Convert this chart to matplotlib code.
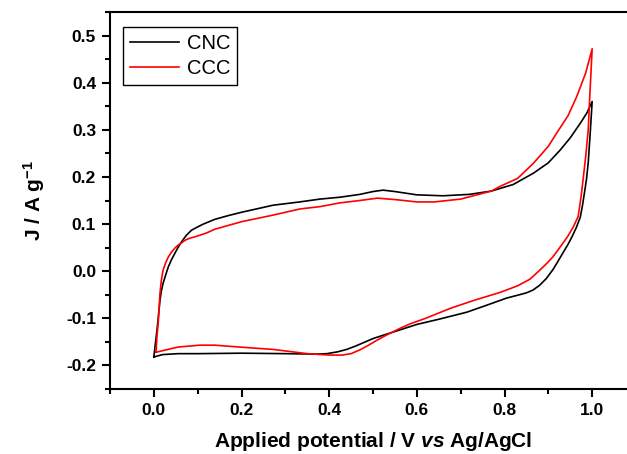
'''
Cyclic voltammograms of CNC and CCC electrodes
'''
import matplotlib
matplotlib.use('Agg')
import matplotlib.pyplot as plt
from matplotlib.ticker import MultipleLocator

# CNC: forward (anodic) sweep 0 -> 1 V, then reverse sweep 1 -> 0 V
cnc_fwd_x = [0.0, 0.004, 0.008, 0.011, 0.014, 0.017, 0.021, 0.027, 0.033, 0.04,
             0.048, 0.055, 0.063, 0.074, 0.086, 0.1, 0.113, 0.139, 0.17, 0.2,
             0.272, 0.333, 0.379, 0.425, 0.47, 0.5, 0.523, 0.55, 0.6, 0.66,
             0.72, 0.77, 0.82, 0.866, 0.9, 0.927, 0.95, 0.973, 0.988, 1.0]
cnc_fwd_y = [-0.182, -0.15, -0.118, -0.09, -0.062, -0.043, -0.026, -0.008, 0.009, 0.024,
             0.038, 0.05, 0.062, 0.076, 0.087, 0.094, 0.100, 0.110, 0.118, 0.125,
             0.140, 0.147, 0.153, 0.157, 0.163, 0.169, 0.172, 0.169, 0.162, 0.160,
             0.163, 0.170, 0.184, 0.208, 0.230, 0.257, 0.283, 0.314, 0.336, 0.360]
cnc_rev_x = [1.0, 0.996, 0.991, 0.987, 0.983, 0.978, 0.973, 0.964, 0.955, 0.945,
             0.934, 0.922, 0.911, 0.895, 0.88, 0.865, 0.85, 0.83, 0.805, 0.76,
             0.714, 0.65, 0.6, 0.56, 0.523, 0.5, 0.48, 0.46, 0.44, 0.42,
             0.395, 0.37, 0.3, 0.2, 0.1, 0.055, 0.02, 0.0]
cnc_rev_y = [0.360, 0.300, 0.230, 0.195, 0.170, 0.140, 0.115, 0.093, 0.075, 0.057,
             0.040, 0.021, 0.004, -0.016, -0.030, -0.040, -0.046, -0.051, -0.057, -0.072,
             -0.087, -0.102, -0.113, -0.125, -0.136, -0.143, -0.151, -0.159, -0.166, -0.171,
             -0.175, -0.176, -0.175, -0.174, -0.175, -0.175, -0.177, -0.182]

# CCC
ccc_fwd_x = [0.005, 0.007, 0.01, 0.012, 0.014, 0.017, 0.021, 0.027, 0.033, 0.04,
             0.048, 0.055, 0.063, 0.072, 0.082, 0.094, 0.12, 0.139, 0.2, 0.272,
             0.333, 0.379, 0.425, 0.47, 0.51, 0.55, 0.6, 0.64, 0.7, 0.77,
             0.79, 0.83, 0.866, 0.9, 0.919, 0.945, 0.965, 0.985, 1.0]
ccc_fwd_y = [-0.172, -0.14, -0.110, -0.078, -0.047, -0.02, 0.002, 0.018, 0.030, 0.040,
             0.049, 0.055, 0.060, 0.066, 0.070, 0.073, 0.081, 0.089, 0.105, 0.119,
             0.132, 0.137, 0.145, 0.150, 0.155, 0.152, 0.147, 0.147, 0.153, 0.170,
             0.180, 0.197, 0.229, 0.265, 0.293, 0.330, 0.371, 0.420, 0.472]
ccc_rev_x = [1.0, 0.995, 0.991, 0.986, 0.98, 0.975, 0.968, 0.957, 0.945, 0.933,
             0.922, 0.91, 0.897, 0.878, 0.858, 0.83, 0.79, 0.73, 0.676, 0.62,
             0.584, 0.56, 0.53, 0.51, 0.49, 0.47, 0.45, 0.43, 0.4, 0.35,
             0.272, 0.196, 0.139, 0.105, 0.055, 0.005]
ccc_rev_y = [0.472, 0.380, 0.300, 0.250, 0.200, 0.160, 0.116, 0.094, 0.075, 0.059,
             0.045, 0.030, 0.017, 0.000, -0.017, -0.031, -0.045, -0.062, -0.079, -0.100,
             -0.112, -0.122, -0.136, -0.146, -0.157, -0.167, -0.175, -0.178, -0.178, -0.175,
             -0.166, -0.161, -0.157, -0.157, -0.161, -0.172]

plt.rcParams['font.family'] = ['Liberation Sans', 'DejaVu Sans']
plt.rcParams['axes.unicode_minus'] = False
plt.rcParams['mathtext.fontset'] = 'custom'
plt.rcParams['mathtext.rm'] = 'Liberation Sans:bold'
plt.rcParams['mathtext.it'] = 'Liberation Sans:italic:bold'
plt.rcParams['mathtext.bf'] = 'Liberation Sans:bold'

fig = plt.figure(figsize=(6.27, 4.54), dpi=100)
ax = fig.add_axes([110 / 627, 1 - 389 / 454, 526 / 627, 377 / 454])

ax.plot(cnc_fwd_x + cnc_rev_x, cnc_fwd_y + cnc_rev_y, color='black', lw=1.2, label='CNC')
ax.plot(ccc_fwd_x + ccc_rev_x, ccc_fwd_y + ccc_rev_y, color='red', lw=1.2, label='CCC')

ax.set_xlim(-0.1, 1.1)
ax.set_ylim(-0.25, 0.55)
ax.xaxis.set_minor_locator(MultipleLocator(0.1))
ax.yaxis.set_minor_locator(MultipleLocator(0.05))
ax.set_xticks([0.0, 0.2, 0.4, 0.6, 0.8, 1.0])
ax.set_yticks([-0.2, -0.1, 0.0, 0.1, 0.2, 0.3, 0.4, 0.5])

for s in ax.spines.values():
    s.set_linewidth(1.5)
ax.tick_params(which='both', direction='out', width=1.5, top=False, right=False)
ax.tick_params(which='major', length=6, labelsize=12.5, pad=4)
ax.tick_params(which='minor', length=3.5)
for lab in ax.get_xticklabels() + ax.get_yticklabels():
    lab.set_fontweight('bold')

ax.set_xlabel(r'Applied potential / V $\it{vs}$ Ag/AgCl', fontsize=15, fontweight='bold', labelpad=9)
ax.set_ylabel(r'J / A g$^{\mathbf{-1}}$', fontsize=15, fontweight='bold', labelpad=14)

leg = ax.legend(loc='upper left', bbox_to_anchor=(0.025, 0.96), borderaxespad=0,
                fontsize=14.5, fancybox=False, edgecolor='black', framealpha=1,
                handlelength=2.4, handletextpad=0.4, labelspacing=0.3, borderpad=0.35)
leg.get_frame().set_linewidth(1.0)

fig.savefig('out.png', dpi=100)
